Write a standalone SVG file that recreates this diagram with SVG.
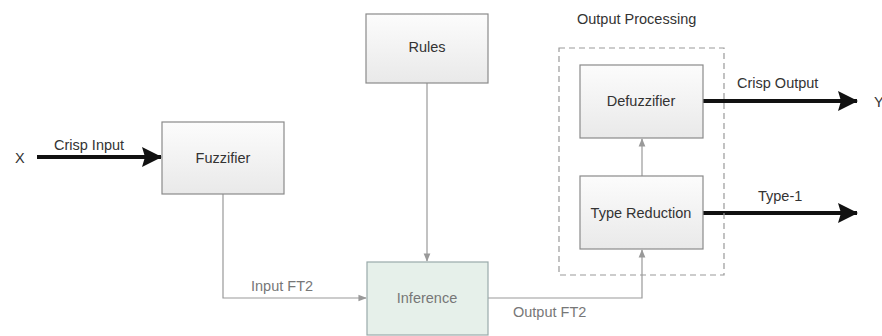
<svg xmlns="http://www.w3.org/2000/svg" width="882" height="336" viewBox="0 0 882 336">
<style>
.box{fill:url(#g);stroke:#8a8a8a;stroke-width:1.2}
.t{font-family:"Liberation Sans",Arial,sans-serif;font-size:14.5px;fill:#333}
.c{text-anchor:middle}
.dim{fill:#777}
.thin{fill:none;stroke:#999;stroke-width:1.2}
.thick{fill:none;stroke:#111;stroke-width:4}
</style>
<defs>
<linearGradient id="g" x1="0" y1="0" x2="0" y2="1"><stop offset="0" stop-color="#fcfcfc"/><stop offset="1" stop-color="#e9e9e9"/></linearGradient>
<marker id="big" viewBox="0 0 10 10" refX="9.5" refY="5" markerWidth="5" markerHeight="5" markerUnits="strokeWidth" orient="auto"><path d="M0,0 L10,5 L0,10 L1.5,5 z" fill="#111"/></marker>
<marker id="sm" viewBox="0 0 10 10" refX="9" refY="5" markerWidth="7" markerHeight="7" markerUnits="strokeWidth" orient="auto"><path d="M0,1 L10,5 L0,9 z" fill="#999"/></marker>
</defs>
<rect width="882" height="336" fill="#fff"/>
<g id="connectors">
<path class="thick" d="M37,157 H161" marker-end="url(#big)"/>
<path class="thick" d="M703,101 H857" marker-end="url(#big)"/>
<path class="thick" d="M703,213 H857" marker-end="url(#big)"/>
<path class="thin" d="M223,194 V298 H366" marker-end="url(#sm)"/>
<path class="thin" d="M427,83 V261" marker-end="url(#sm)"/>
<path class="thin" d="M488,298 H642 V250" marker-end="url(#sm)"/>
<path class="thin" d="M642,176 V139" marker-end="url(#sm)"/>
<text class="t" x="54" y="150">Crisp Input</text>
<text class="t dim" x="251" y="291">Input FT2</text>
<text class="t dim" x="513" y="317">Output FT2</text>
<text class="t" x="737" y="88">Crisp Output</text>
<text class="t" x="758" y="201">Type-1</text>
<text class="t" x="15" y="163">X</text>
<text class="t" x="874" y="107">Y</text>
</g>
<g id="output-processing">
<rect x="559" y="48" width="165" height="227" fill="none" stroke="#999" stroke-width="1.2" stroke-dasharray="6,4"/>
<text class="t" x="577" y="24">Output Processing</text>
</g>
<g id="fuzzifier"><rect class="box" x="162" y="122" width="122" height="72"/><text class="t c" x="223" y="163">Fuzzifier</text></g>
<g id="rules"><rect class="box" x="366" y="14" width="122" height="69"/><text class="t c" x="427" y="52">Rules</text></g>
<g id="inference"><rect x="367" y="262" width="121" height="73" fill="#e6f0ea" stroke="#9aa" stroke-width="1.2"/><text class="t c dim" x="427" y="303">Inference</text></g>
<g id="defuzzifier"><rect class="box" x="580" y="65" width="123" height="73"/><text class="t c" x="641" y="106">Defuzzifier</text></g>
<g id="type-reduction"><rect class="box" x="580" y="176" width="123" height="73"/><text class="t c" x="641" y="218">Type Reduction</text></g>
</svg>
